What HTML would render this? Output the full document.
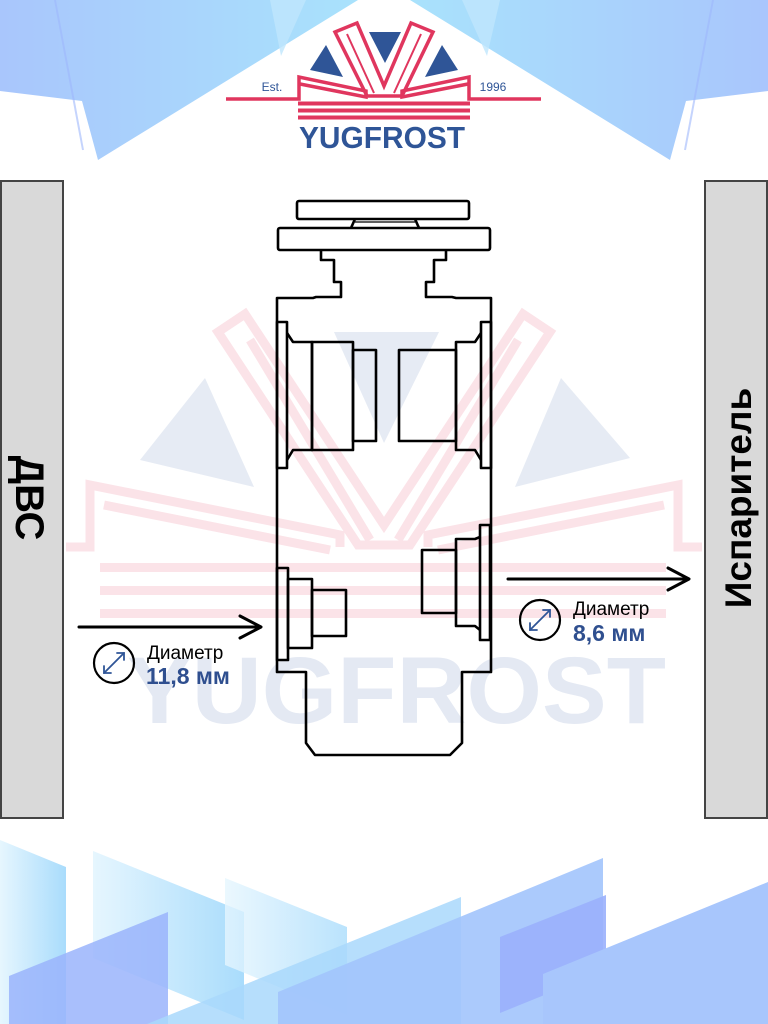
<!DOCTYPE html>
<html><head><meta charset="utf-8"><style>
html,body{margin:0;padding:0;background:#fff;}
svg{display:block;font-family:"Liberation Sans",sans-serif;}
</style></head><body>
<svg width="768" height="1024" viewBox="0 0 768 1024" xmlns="http://www.w3.org/2000/svg">
<defs>
<linearGradient id="gl" x1="0" y1="0" x2="1" y2="0"><stop offset="0" stop-color="#a9c6fc"/><stop offset="1" stop-color="#a9e2fc"/></linearGradient>
<linearGradient id="gr" x1="0" y1="0" x2="1" y2="0"><stop offset="0" stop-color="#a9e2fc"/><stop offset="1" stop-color="#a9c6fc"/></linearGradient>
<linearGradient id="gc" x1="0" y1="0" x2="1" y2="0"><stop offset="0" stop-color="#e6f6fe"/><stop offset="1" stop-color="#a9dcfc"/></linearGradient>
</defs>

<!-- top background -->
<polygon points="0,0 358,0 98,160 82,101 0,91" fill="url(#gl)"/>
<polygon points="270,0 306,0 281,56" fill="#bfe6fd" opacity="0.8"/>
<polygon points="410,0 768,0 768,91 686,101 670,160" fill="url(#gr)"/>
<polygon points="462,0 500,0 487,56" fill="#bfe6fd" opacity="0.8"/>
<line x1="55" y1="0" x2="83" y2="150" stroke="#9fb8fc" stroke-width="2" opacity="0.6"/>
<line x1="713" y1="0" x2="685" y2="150" stroke="#9fb8fc" stroke-width="2" opacity="0.6"/>

<!-- bottom background -->
<polygon points="0,840 66,867 66,1024 0,1024" fill="url(#gc)"/>
<polygon points="93,851 244,912 244,1020 93,958" fill="url(#gc)"/>
<polygon points="225,878 347,927 347,1015 225,965" fill="url(#gc)" opacity="0.8"/>
<polygon points="9,976 168,912 168,1024 9,1024" fill="#9ab4fc" opacity="0.85"/>
<polygon points="147,1024 461,897 461,1024" fill="#a9d8fc" opacity="0.85"/>
<polygon points="278,992 603,858 603,1024 278,1024" fill="#a2c4fc" opacity="0.9"/>
<polygon points="500,937 606,895 606,970 500,1013" fill="#9ab0fc" opacity="0.9"/>
<polygon points="543,974 768,882 768,1024 543,1024" fill="#a8c6fc"/>

<!-- logo -->
<g>
  <polygon points="369,32 401,32 385,63" fill="#2f5597"/>
  <polygon points="326,45 343,77 310,70" fill="#2f5597"/>
  <polygon points="442,45 458,70 425,77" fill="#2f5597"/>
  <polygon points="335,32 357,23 384,86 411,23 433,32 402,96 367,96" fill="none" stroke="#e0365e" stroke-width="3.5"/>
  <polyline points="347,34 374,93" fill="none" stroke="#e0365e" stroke-width="2"/>
  <polyline points="421,34 394,93" fill="none" stroke="#e0365e" stroke-width="2"/>
  <polyline points="226,99 299,99 299,77 366,91 366,97 300,84" fill="none" stroke="#e0365e" stroke-width="3.5"/>
  <polyline points="541,99 469,99 469,77 402,91 402,97 468,84" fill="none" stroke="#e0365e" stroke-width="3.5"/>
  <rect x="298" y="101.5" width="172" height="4" fill="#e0365e"/>
  <rect x="298" y="108.5" width="172" height="4" fill="#e0365e"/>
  <rect x="298" y="115.5" width="172" height="4" fill="#e0365e"/>
  <text x="299" y="148" font-size="31" font-weight="bold" fill="#2f5597" textLength="166" lengthAdjust="spacingAndGlyphs">YUGFROST</text>
</g>
<text x="272" y="91" font-size="12" fill="#2f5597" text-anchor="middle">Est.</text>
<text x="493" y="91" font-size="12" fill="#2f5597" text-anchor="middle">1996</text>

<!-- watermark -->
<g>
  <polygon points="205,378 140,460 254,487" fill="#e6ebf4"/>
  <polygon points="561,378 630,458 515,487" fill="#e6ebf4"/>
  <polygon points="334,332 439,332 384,443" fill="#e6ebf4"/>
  <g fill="none" stroke="#fbe3e8" stroke-width="9" stroke-linejoin="miter">
    <polygon points="218,332 245,314 384,525 523,314 550,332 410,545 358,545"/>
    <polyline points="250,340 370,540"/>
    <polyline points="518,340 398,540"/>
    <polyline points="66,547 90,547 90,485 340,535 340,547"/>
    <polyline points="702,547 678,547 678,485 428,535 428,547"/>
    <polyline points="104,505 330,550"/>
    <polyline points="664,505 438,550"/>
  </g>
  <rect x="100" y="563" width="566" height="9" fill="#fbe3e8"/>
  <rect x="100" y="586" width="566" height="9" fill="#fbe3e8"/>
  <rect x="100" y="609" width="566" height="9" fill="#fbe3e8"/>
  <text x="127" y="723" font-size="95" font-weight="bold" fill="#e4e9f3" textLength="539" lengthAdjust="spacingAndGlyphs">YUGFROST</text>
</g>

<!-- side bars -->
<rect x="1" y="181" width="62" height="637" fill="#d9d9d9" stroke="#444" stroke-width="2"/>
<rect x="705" y="181" width="62" height="637" fill="#d9d9d9" stroke="#444" stroke-width="2"/>
<text transform="translate(16,498) rotate(90)" font-size="40" font-weight="bold" fill="#000" text-anchor="middle">ДВС</text>
<text transform="translate(751,498) rotate(-90)" font-size="37" font-weight="bold" fill="#000" text-anchor="middle">Испаритель</text>

<!-- valve -->
<g fill="none" stroke="#000" stroke-width="2.6" stroke-linejoin="round">
  <rect x="297" y="201" width="172" height="18" rx="2"/>
  <polyline points="355,219 351,228"/><polyline points="415,219 419,228"/>
  <line x1="355" y1="222" x2="415" y2="222" stroke-width="1.2"/>
  <rect x="278" y="228" width="212" height="22" rx="2"/>
  <polyline points="321,250 321,260 334,260 334,282 341,282 341,297 316,297 313,298 277,298 277,672 306,672 306,743 315,755 450,755 462,743 462,672 491,672 491,298 456,298 452,297 426,297 426,282 434,282 434,260 446,260 446,250"/>
  <rect x="277" y="322" width="10" height="146"/>
  <polyline points="287,333 293,342 312,342 312,450 293,450 287,460"/>
  <rect x="312" y="342" width="41" height="108"/>
  <rect x="353" y="350" width="23" height="91"/>
  <rect x="481" y="322" width="10" height="146"/>
  <polyline points="481,333 475,342 456,342 456,450 475,450 481,460"/>
  <rect x="399" y="350" width="57" height="91"/>
  <rect x="277" y="568" width="11" height="92"/>
  <rect x="288" y="579" width="24" height="69"/>
  <rect x="312" y="590" width="34" height="46"/>
  <rect x="480" y="525" width="10" height="115"/>
  <polyline points="480,537 475,539 456,539 456,626 475,626 480,630"/>
  <rect x="422" y="550" width="34" height="63"/>
</g>

<!-- arrows -->
<g fill="none" stroke="#000" stroke-width="3" stroke-linecap="round" stroke-linejoin="round">
  <line x1="79" y1="627" x2="260" y2="627"/>
  <polyline points="240,616 261,627 240,638"/>
  <line x1="508" y1="579" x2="688" y2="579"/>
  <polyline points="668,568 689,579 668,590"/>
</g>

<!-- diameter labels -->
<g>
  <circle cx="114" cy="663" r="20" fill="none" stroke="#000" stroke-width="2.2"/>
  <g stroke="#2f5597" stroke-width="1.8" fill="none" stroke-linecap="round">
    <line x1="104" y1="673" x2="124" y2="653"/>
    <polyline points="117,653 124,653 124,660"/><polyline points="104,666 104,673 111,673"/>
  </g>
  <text x="147" y="659" font-size="19" fill="#000">Диаметр</text>
  <text x="146" y="684" font-size="23" font-weight="bold" fill="#2f4f8f">11,8 мм</text>

  <circle cx="540" cy="620" r="20" fill="none" stroke="#000" stroke-width="2.2"/>
  <g stroke="#2f5597" stroke-width="1.8" fill="none" stroke-linecap="round">
    <line x1="530" y1="630" x2="550" y2="610"/>
    <polyline points="543,610 550,610 550,617"/><polyline points="530,623 530,630 537,630"/>
  </g>
  <text x="573" y="615" font-size="19" fill="#000">Диаметр</text>
  <text x="573" y="641" font-size="23" font-weight="bold" fill="#2f4f8f">8,6 мм</text>
</g>
</svg>
</body></html>
